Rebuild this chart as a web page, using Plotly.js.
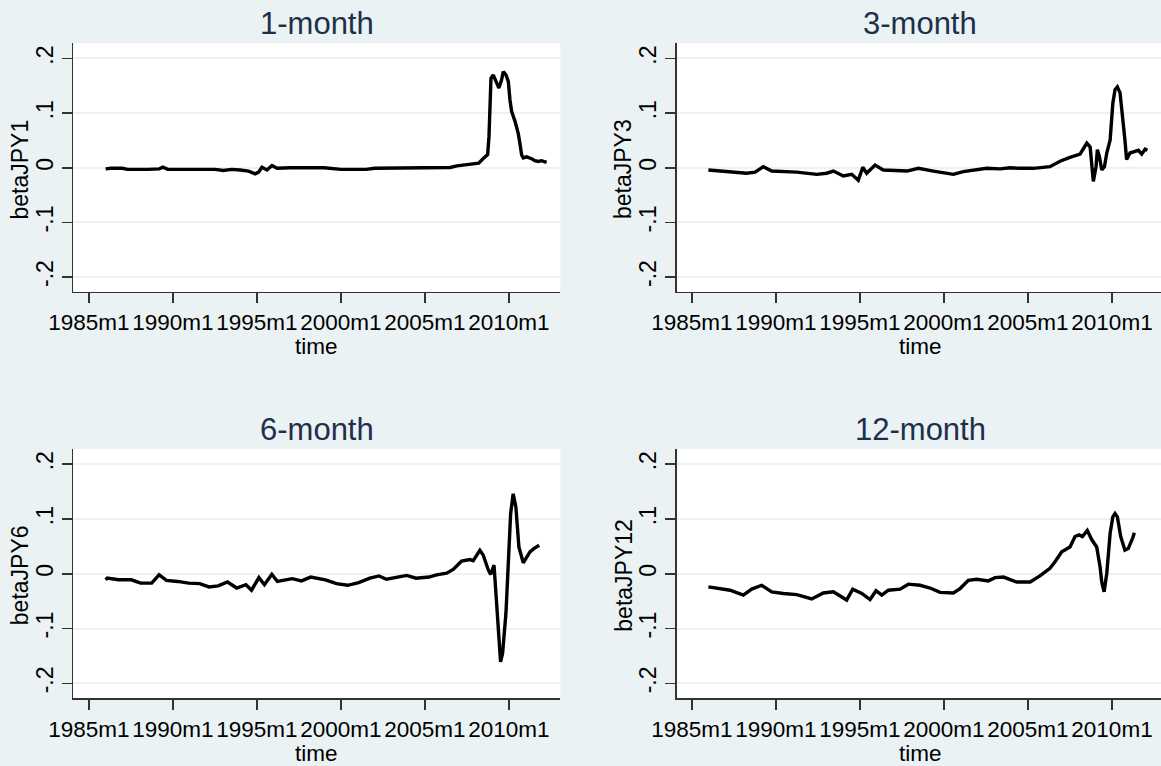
<!DOCTYPE html>
<html>
<head>
<meta charset="utf-8">
<script src="https://cdn.plot.ly/plotly-3.0.1.min.js"></script>
<style>html,body{margin:0;padding:0;background:#EAF2F3;}#chart{width:1161px;height:766px;}</style>
</head>
<body>
<div id="chart"></div>
<script>
// ---- data (decimal years, beta values) ----
const panelTitles = ['1-month', '3-month', '6-month', '12-month'];
const yTitles = ['betaJPY1', 'betaJPY3', 'betaJPY6', 'betaJPY12'];
const xTickYears = [1985, 1990, 1995, 2000, 2005, 2010];
const xTickLabels = ['1985m1', '1990m1', '1995m1', '2000m1', '2005m1', '2010m1'];
const yTickVals = [-0.2, -0.1, 0, 0.1, 0.2];
const yTickLabels = ['-.2', '-.1', '0', '.1', '.2'];

const t1 = [1986.0,1986.3,1987.0,1987.3,1988.5,1989.2,1989.4,1989.7,1991.0,1992.5,1993.0,1993.5,1994.0,1994.5,1994.9,1995.1,1995.3,1995.6,1995.9,1996.2,1997.0,1999.0,2000.0,2001.5,2002.0,2004.0,2006.5,2006.9,2008.2,2008.5,2008.73,2008.81,2008.87,2008.93,2009.06,2009.22,2009.4,2009.56,2009.66,2009.82,2009.96,2010.06,2010.16,2010.36,2010.55,2010.65,2010.75,2010.85,2011.05,2011.35,2011.54,2011.74,2011.94,2012.24];
const beta1 = [-0.002,-0.001,-0.001,-0.003,-0.003,-0.002,0.001,-0.003,-0.003,-0.003,-0.005,-0.003,-0.004,-0.006,-0.011,-0.008,0.001,-0.004,0.004,-0.001,0,0,-0.003,-0.003,-0.001,0,0.0005,0.0036,0.0086,0.018,0.024,0.057,0.137,0.164,0.170,0.158,0.146,0.161,0.176,0.170,0.158,0.124,0.103,0.085,0.063,0.045,0.024,0.018,0.020,0.0165,0.013,0.0115,0.013,0.010];

const t3 = [1985.98,1987.27,1988.26,1988.76,1989.25,1989.75,1991.24,1992.43,1993.02,1993.42,1994.01,1994.51,1994.90,1995.17,1995.40,1995.90,1996.39,1997.79,1998.48,1999.37,2000.56,2001.15,2001.75,2002.55,2003.34,2003.93,2004.53,2005.32,2006.31,2006.91,2007.50,2008.10,2008.26,2008.50,2008.70,2008.80,2008.89,2009.05,2009.13,2009.25,2009.39,2009.55,2009.69,2009.89,2010.05,2010.18,2010.32,2010.48,2010.64,2010.77,2010.87,2011.07,2011.37,2011.57,2011.77,2011.97,2012.11];
const beta3 = [-0.004,-0.007,-0.010,-0.008,0.002,-0.006,-0.008,-0.012,-0.010,-0.006,-0.015,-0.012,-0.023,0.001,-0.010,0.005,-0.004,-0.006,-0.001,-0.006,-0.012,-0.007,-0.005,-0.001,-0.002,0,-0.001,-0.001,0.002,0.012,0.019,0.025,0.033,0.045,0.038,0.009,-0.025,0.002,0.033,0.021,-0.004,0.002,0.027,0.051,0.118,0.143,0.148,0.137,0.094,0.051,0.015,0.027,0.030,0.032,0.025,0.034,0.032];

const t6 = [1986.0,1986.1,1986.76,1987.53,1988.08,1988.74,1989.18,1989.62,1990.28,1990.94,1991.60,1992.15,1992.70,1993.25,1993.80,1994.35,1994.68,1995.12,1995.45,1995.89,1996.22,1997.10,1997.65,1998.20,1999.08,1999.74,2000.40,2001.06,2001.72,2002.27,2002.71,2003.37,2003.92,2004.47,2005.24,2005.69,2006.29,2006.68,2007.18,2007.68,2007.87,2008.27,2008.47,2008.77,2008.91,2009.11,2009.26,2009.42,2009.50,2009.62,2009.82,2009.96,2010.10,2010.25,2010.41,2010.59,2010.85,2011.25,2011.48,2011.80];
const beta6 = [-0.011,-0.008,-0.011,-0.011,-0.017,-0.017,-0.002,-0.012,-0.014,-0.017,-0.018,-0.024,-0.022,-0.015,-0.026,-0.020,-0.030,-0.007,-0.020,-0.001,-0.014,-0.009,-0.013,-0.006,-0.011,-0.018,-0.021,-0.016,-0.008,-0.004,-0.010,-0.006,-0.003,-0.008,-0.006,-0.002,0.001,0.008,0.023,0.026,0.024,0.043,0.034,0.007,-0.001,0.016,-0.048,-0.121,-0.161,-0.145,-0.072,0.019,0.110,0.146,0.122,0.049,0.020,0.040,0.046,0.052];

const t12 = [1985.98,1986.67,1987.27,1988.06,1988.56,1989.15,1989.75,1990.44,1991.24,1992.13,1992.82,1993.42,1994.21,1994.57,1995.11,1995.60,1995.96,1996.30,1996.69,1997.39,1997.88,1998.58,1999.17,1999.77,2000.56,2000.96,2001.45,2001.95,2002.64,2003.04,2003.54,2004.33,2005.13,2005.71,2006.31,2006.61,2007.01,2007.50,2007.80,2008.04,2008.24,2008.53,2008.80,2009.09,2009.29,2009.39,2009.53,2009.69,2009.89,2010.05,2010.18,2010.32,2010.52,2010.77,2010.97,2011.24,2011.33];
const beta12 = [-0.024,-0.028,-0.030,-0.039,-0.028,-0.021,-0.033,-0.036,-0.038,-0.046,-0.035,-0.033,-0.048,-0.028,-0.036,-0.047,-0.031,-0.039,-0.030,-0.028,-0.019,-0.021,-0.026,-0.034,-0.035,-0.027,-0.012,-0.010,-0.013,-0.007,-0.006,-0.015,-0.015,-0.004,0.010,0.022,0.040,0.049,0.068,0.071,0.068,0.079,0.062,0.049,0.013,-0.015,-0.033,0.001,0.074,0.104,0.110,0.104,0.068,0.043,0.046,0.066,0.075];

// ---- layout helpers ----
const W = 1161, H = 766;
const series = [[t1, beta1], [t3, beta3], [t6, beta6], [t12, beta12]];
// pixel geometry of each panel's plot region [left, right, top, bottom]
const boxes = [[73.2, 560.4, 43.3, 291.7], [676.7, 1161, 43.3, 291.7], [73.2, 560.4, 449, 698], [676.7, 1161, 449, 698]];
const xRanges = [[1984.07, 2013.06], [1984.095, 2012.917], [1984.07, 2013.06], [1984.095, 2012.917]];
const yRange = [-0.2268, 0.2278];

const FONT = 'Liberation Sans, Arial, sans-serif';
const data = [];
const layout = {
  width: W, height: H,
  margin: {l: 0, r: 0, t: 0, b: 0},
  paper_bgcolor: '#EAF2F3',
  plot_bgcolor: '#FFFFFF',
  showlegend: false,
  font: {family: FONT, color: '#000000'},
  annotations: []
};

series.forEach((s, i) => {
  const n = i + 1;
  const xa = 'x' + (n === 1 ? '' : n), ya = 'y' + (n === 1 ? '' : n);
  data.push({x: s[0], y: s[1], type: 'scatter', mode: 'lines', xaxis: xa, yaxis: ya,
    line: {color: '#000000', width: 3.4}, hoverinfo: 'skip'});
  const b = boxes[i];
  const xd = [b[0] / W, b[1] / W], yd = [1 - b[3] / H, 1 - b[2] / H];
  layout['xaxis' + (n === 1 ? '' : n)] = {
    domain: xd, range: xRanges[i], anchor: ya,
    showgrid: false, zeroline: false,
    showline: true, linecolor: '#333333', linewidth: 1.5,
    ticks: 'outside', ticklen: 10, tickwidth: 1.5, tickcolor: '#333333',
    tickvals: xTickYears, ticktext: xTickLabels, tickangle: 0,
    tickfont: {family: FONT, size: 22.5, color: '#000000'}
  };
  layout['yaxis' + (n === 1 ? '' : n)] = {
    domain: yd, range: yRange, anchor: xa,
    showgrid: true, gridcolor: '#EAF2F3', gridwidth: 2, zeroline: false,
    showline: true, linecolor: '#333333', linewidth: 1.5,
    ticks: 'outside', ticklen: 10, tickwidth: 1.5, tickcolor: '#333333',
    tickvals: yTickVals, ticktext: yTickLabels, tickangle: -90,
    tickfont: {family: FONT, size: 23, color: '#000000'}
  };
  const cx = (b[0] + (i % 2 === 1 ? 1163.5 : b[1])) / 2;
  // panel title
  layout.annotations.push({text: panelTitles[i], xref: 'paper', yref: 'paper',
    x: cx / W, y: 1 - (b[2] - 20) / H, xanchor: 'center', yanchor: 'middle', showarrow: false,
    font: {family: FONT, size: 31, color: '#1E2F4B'}});
  // y title
  layout.annotations.push({text: yTitles[i], xref: 'paper', yref: 'paper', textangle: -90,
    x: (b[0] - 53) / W, y: 1 - (b[2] + 126) / H, xanchor: 'center', yanchor: 'middle', showarrow: false,
    font: {family: FONT, size: 23, color: '#000000'}});
  // x title
  layout.annotations.push({text: 'time', xref: 'paper', yref: 'paper',
    x: cx / W, y: 1 - (b[3] + 55) / H, xanchor: 'center', yanchor: 'middle', showarrow: false,
    font: {family: FONT, size: 22.5, color: '#000000'}});
});

Plotly.newPlot('chart', data, layout, {staticPlot: true});
</script>
</body>
</html>
